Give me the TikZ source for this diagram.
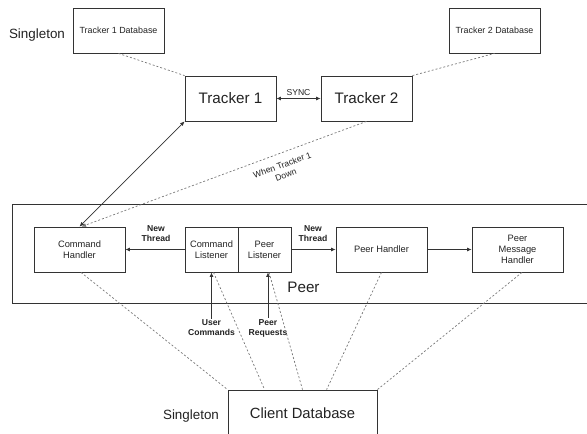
\documentclass[tikz,border=0pt]{standalone}
\usepackage{fontspec}
\setmainfont{Liberation Sans}
\usetikzlibrary{arrows.meta}
\definecolor{boxline}{HTML}{333333}
\definecolor{dashline}{HTML}{777777}
\definecolor{txt}{HTML}{222222}
\tikzset{
  box/.style={draw=boxline, line width=0.8pt, minimum width=91pt, minimum height=45pt, inner sep=1pt, align=center, text=txt},
  smallbox/.style={box, minimum width=53pt},
  nodefont/.style={font=\fontsize{9.3}{11}\selectfont},
  dbfont/.style={font=\fontsize{8.9}{11}\selectfont},
  bigfont/.style={font=\fontsize{15.2}{18}\selectfont},
  lbl/.style={font=\fontsize{8.6}{10.5}\selectfont, text=txt, align=center, inner sep=1pt},
  boldlbl/.style={font=\fontsize{8.6}{10}\selectfont\bfseries, text=txt, align=center, inner sep=1pt},
  arr/.style={draw=boxline, line width=0.7pt, -{Latex[length=4.5pt,width=4pt]}},
  biarr/.style={draw=boxline, line width=0.7pt, {Latex[length=4.5pt,width=4pt]}-{Latex[length=4.5pt,width=4pt]}},
  dsh/.style={draw=dashline, line width=0.7pt, dash pattern=on 2pt off 2pt},
}
\begin{document}
\begin{tikzpicture}[x=1pt,y=-1pt]
\useasboundingbox (0,0) rectangle (587,434);
% outer peer container
\node[draw=boxline, line width=0.8pt, minimum width=576pt, minimum height=99pt, inner sep=0pt] (peerbox) at (300,253.5) {};
\node[bigfont, text=txt] (peerlbl) at (303.5,287) {Peer};
% trackers
\node[box, dbfont] (t1db) at (118.5,30.5) {Tracker 1 Database};
\node[box, dbfont] (t2db) at (494.5,30.5) {Tracker 2 Database};
\node[box, bigfont] (t1) at (230.5,98.5) {Tracker 1};
\node[box, bigfont] (t2) at (366.5,98.5) {Tracker 2};
\node[font=\fontsize{13.4}{16}\selectfont, text=txt] (s1) at (37,35) {Singleton};
% peer internals
\node[box, nodefont] (ch) at (79.5,249.5) {Command\\Handler};
\node[smallbox, nodefont] (cl) at (211.5,249.5) {Command\\Listener};
\node[smallbox, nodefont] (pl) at (264.5,249.5) {Peer\\Listener};
\node[box, nodefont] (ph) at (381.5,249.5) {Peer Handler};
\node[box, nodefont] (pmh) at (517.5,249.5) {Peer\\Message\\Handler};
% client database
\node[draw=boxline, line width=0.8pt, minimum width=149pt, minimum height=46pt, font=\fontsize{14.8}{18}\selectfont, text=txt] (cdb) at (302.5,413) {Client Database};
\node[font=\fontsize{13.4}{16}\selectfont, text=txt] (s2) at (191,416) {Singleton};
% tracker connectors
\draw[dsh] (t1db.south) -- (t1.north west);
\draw[dsh] (t2.north east) -- (t2db.south);
\draw[biarr] (t1.east) -- (t2.west) node[midway, lbl, anchor=south, yshift=2pt] (sync) {SYNC};
\draw[biarr] (ch.north) -- (t1.south west);
\draw[dsh, -{Latex[length=4.5pt,width=4pt]}] (t2.south) -- ([xshift=2pt]ch.north);
\node[lbl, rotate=20] (down) at (284,170) {When Tracker 1\\Down};
% peer connectors
\draw[arr] (cl.west) -- (ch.east);
\node[boldlbl] (nt1) at (156,234) {New\\Thread};
\draw[arr] (pl.east) -- (ph.west);
\node[boldlbl] (nt2) at (313,234) {New\\Thread};
\draw[arr] (ph.east) -- (pmh.west);
% inputs
\node[boldlbl] (uc) at (211.5,328) {User\\Commands};
\node[boldlbl] (pr) at (268,328) {Peer\\Requests};
\draw[arr] (uc.north) -- (uc.north |- cl.south);
\draw[arr] (pr.north) -- (pr.north |- pl.south);
% client database dashed links
\draw[dsh] ([xshift=1.5pt]ch.south) -- (cdb.north west);
\draw[dsh] ([xshift=2pt]cl.south) -- ([xshift=37pt]cdb.north west);
\draw[dsh] ([xshift=4.5pt]pl.south) -- (cdb.north);
\draw[dsh] (ph.south) -- ([xshift=99pt]cdb.north west);
\draw[dsh] ([xshift=4.5pt]pmh.south) -- (cdb.north east);
\end{tikzpicture}
\end{document}
